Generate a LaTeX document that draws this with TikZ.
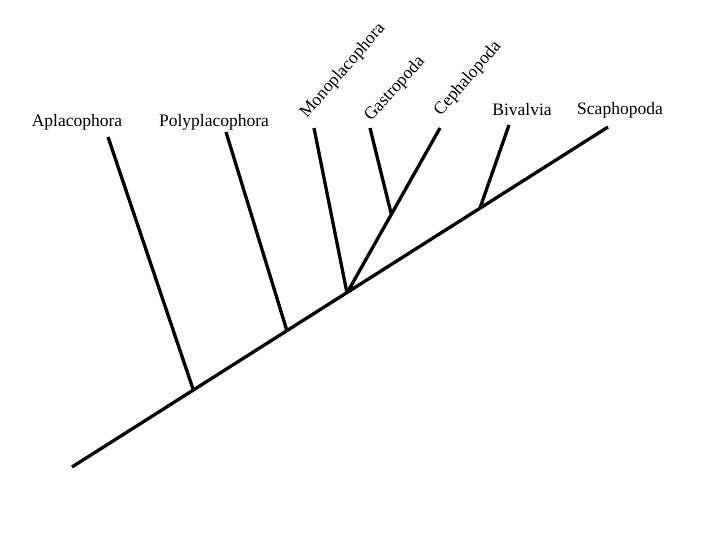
\documentclass[tikz,border=0pt]{standalone}
\usepackage{fontspec}
\setmainfont{Liberation Serif}
\usetikzlibrary{calc}

\tikzset{
    taxon/.style={font=\fontsize{17.5}{20}\selectfont, inner sep=0pt},
    branch/.style={line width=3.3pt}
}

\begin{document}
\begin{tikzpicture}[x=1pt,y=-1pt]
\useasboundingbox (0,0) rectangle (720,540);
% main stem and junctions
\coordinate (root) at (72,467);
\coordinate (scaph) at (608,127);
\coordinate (jA) at (193,389);
\coordinate (jP) at (287,331);
\coordinate (jM) at (347,293);
\coordinate (jB) at (480,208);
\coordinate (jG) at (391,213);
% branch tips
\coordinate (tA) at (108,137);
\coordinate (tP) at (226,132);
\coordinate (tM) at (314,128);
\coordinate (tG) at (370,128);
\coordinate (tC) at (440,128);
\coordinate (tB) at (509,125);
% labels
\node[taxon] (lA) at (77,122) {Aplacophora};
\node[taxon] (lP) at (214,122) {Polyplacophora};
\node[taxon, rotate=49] (lM) at (343,71) {Monoplacophora};
\node[taxon, rotate=48] (lG) at (395,89) {Gastropoda};
\node[taxon, rotate=49] (lC) at (468,79) {Cephalopoda};
\node[taxon] (lB) at (522,110) {Bivalvia};
\node[taxon] (lS) at (620,110) {Scaphopoda};
\draw[branch]
    (root) -- (scaph)
    (jA) -- (tA)
    (jP) -- (tP)
    (jM) -- (tM)
    (jM) -- (tC)
    (jG) -- (tG)
    (jB) -- (tB)
;
\end{tikzpicture}
\end{document}
